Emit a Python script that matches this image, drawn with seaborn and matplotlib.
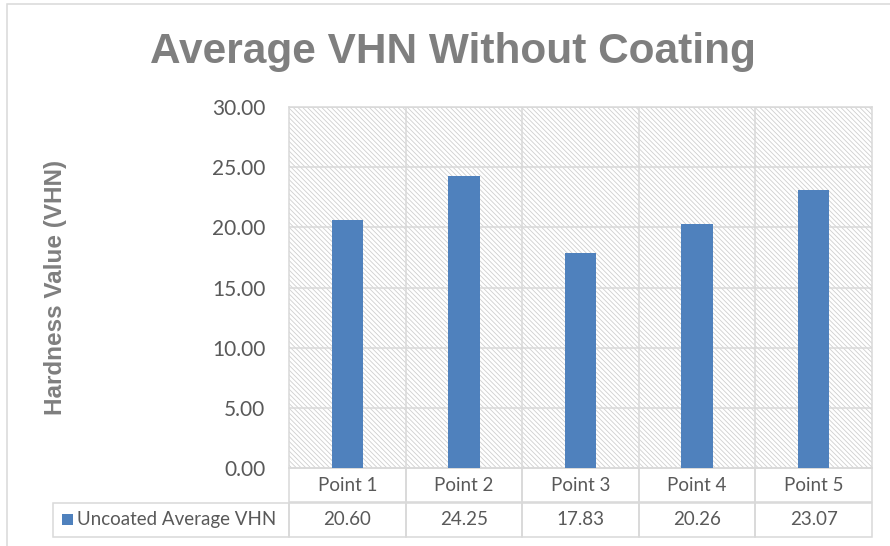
# Average VHN without coating - bar chart with data table

import matplotlib
matplotlib.use("Agg")
import matplotlib.pyplot as plt
import seaborn as sns
from matplotlib.patches import Rectangle
from matplotlib.ticker import MultipleLocator, FixedLocator

# Data
points = ["Point 1", "Point 2", "Point 3", "Point 4", "Point 5"]
vhn = [20.60, 24.25, 17.83, 20.26, 23.07]
series_name = "Uncoated Average VHN"

bar_color = "#4F81BD"
grid_color = "#D9D9D9"
text_gray = "#595959"
title_gray = "#7F7F7F"

sns.set_style("white")
plt.rcParams["font.family"] = ["Lato", "DejaVu Sans"]
plt.rcParams["hatch.linewidth"] = 0.6

fig = plt.figure(figsize=(8.9, 5.46), dpi=100)
ax = fig.add_axes([289 / 890, 1 - 468 / 546, 583 / 890, 361 / 546])

# hatched plot area background
ax.add_patch(Rectangle((0, 0), 1, 1, transform=ax.transAxes, facecolor="white",
                       edgecolor="#CFCFCF", linewidth=0, hatch="\\" * 7, zorder=0.1))

sns.barplot(x=points, y=vhn, color=bar_color, saturation=1, width=0.27,
            linewidth=0, ax=ax, zorder=3)

ax.set_xlim(-0.5, len(points) - 0.5)
ax.set_ylim(0, 30)
ax.yaxis.set_major_locator(MultipleLocator(5))
ax.yaxis.set_major_formatter(matplotlib.ticker.FormatStrFormatter("%.2f"))
ax.xaxis.set_major_locator(FixedLocator([i + 0.5 for i in range(len(points) - 1)]))
ax.set_xticklabels([])
ax.set_xlabel("")
ax.tick_params(axis="both", length=0)
ax.tick_params(axis="y", labelsize=15, labelcolor=text_gray, pad=17)
ax.set_axisbelow(True)
ax.grid(True, axis="both", color=grid_color, linewidth=1.1)
for s in ax.spines.values():
    s.set_visible(True)
    s.set_color(grid_color)
    s.set_linewidth(1.1)

ax.set_ylabel("Hardness Value (VHN)", fontsize=17.5, fontweight="bold",
              color=title_gray, family=["Liberation Sans", "DejaVu Sans"])
ax.yaxis.set_label_coords(-0.381, 0.5)

# data table under the axes
cell_text = [[""] + points, [series_name] + ["{:.2f}".format(v) for v in vhn]]
label_w = 236 / 583
tbl = ax.table(cellText=cell_text, cellLoc="center",
               colWidths=[label_w] + [0.2] * len(points),
               bbox=[-label_w, -69 / 361, 1 + label_w, 69 / 361])
tbl.auto_set_font_size(False)
for (r, c), cell in tbl.get_celld().items():
    cell.set_edgecolor(grid_color)
    cell.set_linewidth(1.1)
    cell.get_text().set_fontsize(13.5)
    cell.get_text().set_color(text_gray)
    cell.set_facecolor("none")
tbl[0, 0].visible_edges = "open"
tbl[1, 0]._loc = "left"
tbl[1, 0].get_text().set_horizontalalignment("left")

# legend key in the table
ax.add_patch(Rectangle((-227 / 583, -57 / 361), 11 / 583, 11 / 361,
                       transform=ax.transAxes, facecolor=bar_color,
                       edgecolor="none", clip_on=False))

fig.text(453 / 890, 1 - 52 / 546, "Average VHN Without Coating", ha="center",
         va="center", fontsize=30.5, fontweight="bold", color=title_gray,
         family=["Liberation Sans", "DejaVu Sans"])

# chart outer border (only top and left visible in the crop)
fig.add_artist(Rectangle((7 / 890, -0.1), 1.2, 1.1 - 4 / 546, transform=fig.transFigure,
                         fill=False, edgecolor=grid_color, linewidth=1.1))

fig.savefig("out.png", dpi=100)
